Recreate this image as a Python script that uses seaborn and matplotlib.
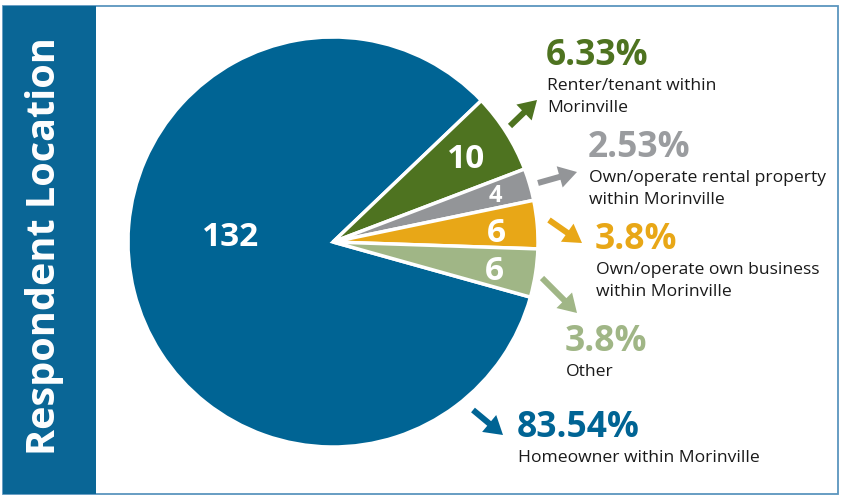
import matplotlib
matplotlib.use("Agg")
import matplotlib.pyplot as plt
from matplotlib.patches import Rectangle
import seaborn as sns

# ---- data ----
categories = ["Homeowner within Morinville", "Renter/tenant within\nMorinville",
              "Own/operate rental property\nwithin Morinville",
              "Own/operate own business\nwithin Morinville", "Other"]
counts = [132, 10, 4, 6, 6]
percent_labels = ["83.54%", "6.33%", "2.53%", "3.8%", "3.8%"]
title = "Respondent Location"

# ---- styles ----
sns.set_theme(style="white")
plt.rcParams['font.family'] = ['Open Sans', 'DejaVu Sans']
slice_colors = ["#006494", "#4E7320", "#939598", "#E8A717", "#A0B686"]
pct_colors = ["#006494", "#4E7320", "#9A9C9F", "#E8A717", "#A0B686"]
band_color = "#0A6696"
border_color = "#5B95BE"

W, H = 844, 497
fig = plt.figure(figsize=(W / 100, H / 100), dpi=100)
ax = fig.add_axes([0, 0, 1, 1])

def Y(y):
    return H - y

# frame and left band
ax.add_patch(Rectangle((3, Y(494)), 835, 488, facecolor="white",
                       edgecolor=border_color, lw=1.3, zorder=0))
ax.add_patch(Rectangle((3, Y(494)), 93, 488, facecolor=band_color,
                       edgecolor="none", zorder=1))
ax.text(45, Y(246), title, rotation=90, ha="center", va="center",
        color="white", fontweight="bold", fontsize=28.5, zorder=2)

# pie
ax.pie(counts, colors=slice_colors, startangle=-15.6, counterclock=False,
       center=(333, Y(242)), radius=205,
       wedgeprops=dict(edgecolor="white", linewidth=2.5))

# inner value labels (pixel positions)
inner_pos = [(231, 237), (466, 160), (495, 196), (496, 233), (494, 272)]
inner_size = [24, 24, 17, 24, 24]
for c, (x, y), s in zip(counts, inner_pos, inner_size):
    ax.text(x, Y(y), str(c), ha="center", va="center", color="white",
            fontweight="bold", fontsize=s, zorder=5)

# arrows (tail -> tip, pixel positions)
arrows = [((473, 410), (503, 435)), ((510, 126), (537, 100)),
          ((538, 183), (577, 172)), ((549, 220), (582, 243)),
          ((542, 278), (577, 313))]
for col, ((x0, y0), (x1, y1)) in zip(slice_colors, arrows):
    ax.arrow(x0, Y(y0), x1 - x0, Y(y1) - Y(y0), width=6, head_width=22,
             head_length=18, length_includes_head=True, color=col, lw=0,
             zorder=4)

# percentage + category labels (left x, percent baseline)
label_pos = [(517, 437), (546, 65), (588, 157), (595, 249), (565, 351)]
for pct, cat, col, (x, yb) in zip(percent_labels, categories, pct_colors, label_pos):
    ax.text(x, Y(yb), pct, ha="left", va="baseline", color=col,
            fontweight="bold", fontsize=25.5)
    for i, line in enumerate(cat.split("\n")):
        ax.text(x + 1, Y(yb + 25 + 22 * i), line, ha="left", va="baseline",
                color="#1a1a1a", fontsize=12.6)

ax.set_xlim(0, W)
ax.set_ylim(0, H)
ax.set_aspect("equal")
ax.axis("off")
fig.savefig("out.png", dpi=100)
